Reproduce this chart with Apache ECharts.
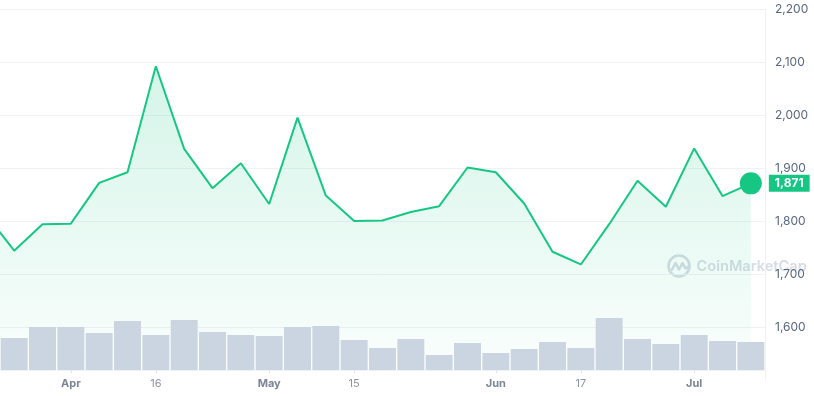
<!DOCTYPE html>
<html><head><meta charset="utf-8">
<script src="https://cdn.jsdelivr.net/npm/echarts@6/dist/echarts.min.js"></script>
<style>html,body{margin:0;padding:0;background:#fff}#c{width:814px;height:396px}</style>
</head><body><div id="c"></div>
<script>
// x-axis labels (one per bar / point)
const xLabels = ['', '', 'Apr', '', '', '16', '', '', '', 'May', '', '', '15', '', '', '', '', 'Jun', '', '', '17', '', '', '', 'Jul', '', ''];
const monthLabels = ['Apr', 'May', 'Jun', 'Jul'];
// price: first value is the point just left of the visible window
const prices = [1813, 1744, 1794, 1795, 1872, 1892, 2092, 1936, 1862, 1909, 1832, 1995, 1848, 1800, 1801, 1817, 1828, 1901, 1892, 1833, 1742, 1718, 1794, 1876, 1827, 1937, 1847, 1871];
// volume (billions)
const volumes = [9.6, 12.9, 12.9, 11.1, 14.7, 10.5, 15.0, 11.4, 10.5, 10.2, 12.9, 13.2, 9.0, 6.6, 9.3, 4.5, 8.1, 5.1, 6.3, 8.4, 6.6, 15.6, 9.3, 7.8, 10.5, 8.7, 8.4];
const priceMin = 1500, priceMax = 2200, priceStep = 100;
const volumeMax = 30;

const lineData = prices.map((p, i) => [i - 1, p]);
const lastIdx = volumes.length - 1;
const lastPrice = prices[prices.length - 1];

const chart = echarts.init(document.getElementById('c'), null, {renderer: 'canvas'});
chart.setOption({
  animation: false,
  backgroundColor: '#ffffff',
  grid: [
    {left: 0, right: 49, top: 9, bottom: 16},
    {left: 0, right: 49, top: 270, bottom: 26}
  ],
  graphic: [{
    type: 'group', left: 666, top: 253, z: 0, silent: true,
    children: [
      {type: 'circle', shape: {cx: 11.5, cy: 11.5, r: 10.5}, style: {fill: 'none', stroke: '#d6dce6', lineWidth: 2.6}},
      {type: 'polyline', shape: {points: [[4.5, 15], [8, 8.5], [11.5, 15], [15, 8.5], [18, 14], [21.5, 12]]}, style: {fill: 'none', stroke: '#d6dce6', lineWidth: 2.6, lineJoin: 'round', lineCap: 'round'}},
      {type: 'text', x: 29, y: 12, style: {text: 'CoinMarketCap', fill: '#d6dce6', font: '600 14.6px Inter', verticalAlign: 'middle'}}
    ]
  }],
  xAxis: [
    {
      type: 'category', gridIndex: 1, data: xLabels, boundaryGap: true,
      axisLine: {show: true, lineStyle: {color: '#eff2f5'}},
      axisTick: {show: true, alignWithLabel: true, length: 3, interval: (i) => xLabels[i] !== '', lineStyle: {color: '#dfe3ea'}},
      axisLabel: {
        interval: 0, margin: 8,
        formatter: (v) => v === '' ? '' : (monthLabels.includes(v) ? '{m|' + v + '}' : '{d|' + v + '}'),
        rich: {
          m: {fontFamily: 'Inter', fontSize: 11, fontWeight: 'bold', color: '#7c8497'},
          d: {fontFamily: 'Inter', fontSize: 11, color: '#8d94a6'}
        }
      },
      splitLine: {show: false}
    },
    {type: 'value', gridIndex: 0, min: -0.5, max: volumes.length - 0.5, show: false}
  ],
  yAxis: [
    {
      type: 'value', gridIndex: 0, position: 'right', min: priceMin, max: priceMax, interval: priceStep,
      axisLine: {show: true, onZero: false, lineStyle: {color: '#eff2f5'}},
      axisTick: {show: false},
      axisLabel: {showMinLabel: false, margin: 10, color: '#58667e', fontSize: 12, fontFamily: 'Inter', formatter: (v) => v.toLocaleString('en-US')},
      splitLine: {show: true, showMinLine: false, lineStyle: {color: '#eff2f5'}}
    },
    {type: 'value', gridIndex: 1, min: 0, max: volumeMax, show: false}
  ],
  series: [
    {
      type: 'line', xAxisIndex: 1, yAxisIndex: 0, data: lineData, showSymbol: false, z: 2,
      lineStyle: {color: '#16c784', width: 2},
      areaStyle: {
        origin: 1519,
        color: new echarts.graphic.LinearGradient(0, 0, 0, 1, [
          {offset: 0, color: 'rgba(22,199,132,0.26)'},
          {offset: 1, color: 'rgba(22,199,132,0.03)'}
        ])
      }
    },
    {
      type: 'bar', xAxisIndex: 0, yAxisIndex: 1, data: volumes, barWidth: '95%', z: 3,
      itemStyle: {color: '#cbd4e1'}
    },
    {
      type: 'scatter', xAxisIndex: 1, yAxisIndex: 0, data: [[lastIdx, lastPrice]], symbolSize: 22, z: 5,
      clip: false,
      itemStyle: {color: '#16c784', opacity: 1},
      label: {
        show: true, position: 'right', distance: 7,
        formatter: () => lastPrice.toLocaleString('en-US'),
        backgroundColor: '#16c784', color: '#ffffff', fontFamily: 'Inter', fontSize: 12, fontWeight: 'bold',
        padding: [3, 6, 2, 6]
      }
    }
  ]
});
</script></body></html>
